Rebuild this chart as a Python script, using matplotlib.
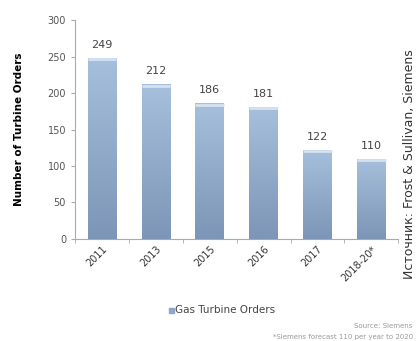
import matplotlib.pyplot as plt
import numpy as np

years = ["2011", "2013", "2015", "2016", "2017", "2018-20*"]
orders = [249, 212, 186, 181, 122, 110]

fig = plt.figure(figsize=(4.17, 3.41), dpi=100)
ax = fig.add_axes([0.18, 0.30, 0.775, 0.64])

x = np.arange(len(years))
bars = ax.bar(x, orders, width=0.53, color="#92abcb", zorder=2)

# vertical gradient inside each bar
grad = np.linspace(0, 1, 100).reshape(-1, 1)
cmap = plt.matplotlib.colors.LinearSegmentedColormap.from_list("g", ["#7d96b7", "#a6bfdc"])
for b in bars:
    x0, y0 = b.get_x(), b.get_y()
    w, h = b.get_width(), b.get_height()
    im = ax.imshow(grad, extent=[x0, x0 + w, y0, y0 + h], origin="lower",
                   cmap=cmap, aspect="auto", zorder=3)
    im.set_clip_path(b)
    ax.plot([x0, x0 + w], [y0 + h - 2, y0 + h - 2], color="#d4e2f2", lw=2,
            solid_capstyle="butt", zorder=4)

for xi, v in zip(x, orders):
    ax.text(xi, v + 11, str(v), ha="center", va="bottom", fontsize=8, color="#444444")

ax.set_xlim(-0.5, len(years) - 0.5)
ax.set_ylim(0, 300)
ax.set_yticks(range(0, 301, 50))
ax.tick_params(axis="y", labelsize=7, colors="#555555", length=3, color="#aaaaaa")
ax.set_xticks(x)
ax.set_xticklabels(years, rotation=45, fontsize=7, color="#333333", ha="right",
                   rotation_mode="anchor")
ax.tick_params(axis="x", length=0, pad=4)
ax.set_xticks(np.arange(-0.5, len(years)), minor=True)
ax.tick_params(axis="x", which="minor", length=3, color="#aaaaaa")
for s in ["top", "right"]:
    ax.spines[s].set_visible(False)
for s in ["left", "bottom"]:
    ax.spines[s].set_color("#aaaaaa")
    ax.spines[s].set_linewidth(0.8)

ax.set_ylabel("Number of Turbine Orders", fontsize=7.5, fontweight="bold", labelpad=17)

# legend
fig.patches.append(plt.Rectangle((0.405, 0.083), 0.012, 0.014, transform=fig.transFigure,
                                 color="#8ea7c6", figure=fig))
fig.text(0.42, 0.09, "Gas Turbine Orders", fontsize=7.5, color="#444444", va="center")

fig.text(0.99, 0.045, "Source: Siemens", fontsize=5, color="#999999", ha="right", va="center")
fig.text(0.99, 0.012, "*Siemens forecast 110 per year to 2020", fontsize=5, color="#999999",
         ha="right", va="center")
fig.text(0.982, 0.52, "Источник: Frost & Sullivan, Siemens", fontsize=9, color="#333333",
         rotation=90, ha="center", va="center")

fig.savefig("out.png", dpi=100)
